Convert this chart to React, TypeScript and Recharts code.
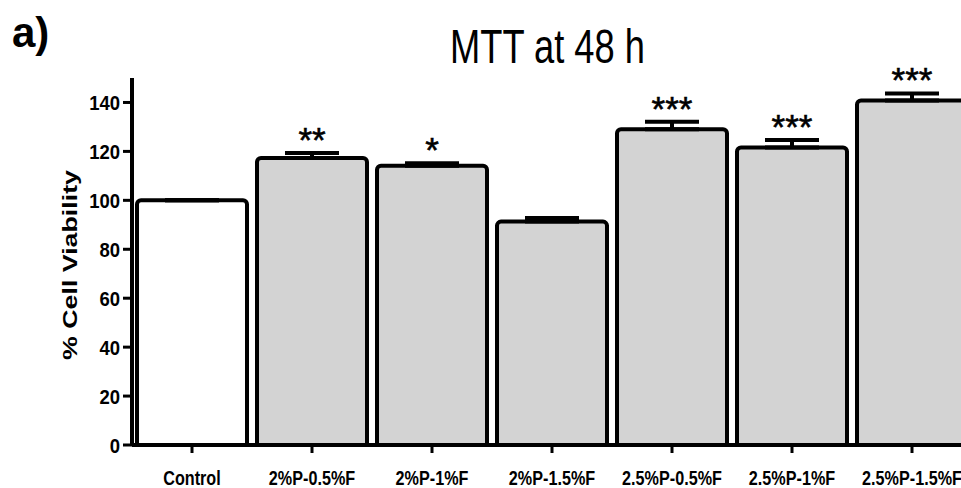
import { ComposedChart, Bar, Cell, ErrorBar, Line, LabelList, XAxis, YAxis } from 'recharts';

const categories = ['Control', '2%P-0.5%F', '2%P-1%F', '2%P-1.5%F', '2.5%P-0.5%F', '2.5%P-1%F', '2.5%P-1.5%F'];
const viability = [100, 117.3, 114.1, 91.3, 129.1, 121.6, 140.8];
const sem = [0, 2.0, 1.1, 1.5, 3.0, 3.1, 2.9];
const significance = ['', '**', '*', '', '***', '***', '***'];
const yTicks = [0, 20, 40, 60, 80, 100, 120, 140];

const data = categories.map((name, i) => ({
    name,
    value: viability[i],
    err: [0, sem[i]],
    top: viability[i] + sem[i],
    sig: significance[i],
}));

const SANS = "'Liberation Sans', Arial, sans-serif";

// no narrow font installed, so squeeze the regular one
const YTick = (props: any) => {
    const { x, y, payload } = props;
    return (
        <g transform={`translate(${x},${y}) scale(0.88,1)`}>
            <text x={0} y={0} dy={7.5} textAnchor="end" fontFamily={SANS} fontWeight="bold" fontSize={21} fill="#000">
                {payload.value}
            </text>
        </g>
    );
};

const XTick = (props: any) => {
    const { x, y, payload } = props;
    return (
        <g transform={`translate(${x},${y}) scale(0.83,1)`}>
            <text x={0} y={0} dy={30} textAnchor="middle" fontFamily={SANS} fontWeight="bold" fontSize={19.5} fill="#000">
                {payload.value}
            </text>
        </g>
    );
};

const StarLabel = (props: any) => {
    const { x, y, value } = props;
    if (!value) return null;
    return (
        <text x={x} y={y} dy={-1} textAnchor="middle" fontFamily={SANS} fontSize={35} fill="#000" stroke="#000" strokeWidth={0.6}>
            {value}
        </text>
    );
};

export default function App() {
    return (
        <div style={{ position: 'absolute', left: 0, top: 0, width: 961, height: 488, overflow: 'hidden', background: '#fff' }}>
            <ComposedChart
                width={980}
                height={488}
                data={data}
                margin={{ top: 78, right: 8, bottom: 0, left: 0 }}
                barCategoryGap={10}
            >
                <XAxis
                    dataKey="name"
                    height={43}
                    axisLine={{ stroke: '#000', strokeWidth: 4 }}
                    tickLine={{ stroke: '#000', strokeWidth: 3 }}
                    tickSize={8}
                    tick={<XTick />}
                    interval={0}
                />
                <YAxis
                    width={132}
                    domain={[0, 150]}
                    ticks={yTicks}
                    axisLine={{ stroke: '#000', strokeWidth: 4 }}
                    tickLine={{ stroke: '#000', strokeWidth: 3 }}
                    tickSize={9}
                    tickMargin={3}
                    tick={<YTick />}
                />
                <Bar dataKey="value" barSize={110} stroke="#000" strokeWidth={4} radius={[4, 4, 0, 0]} isAnimationActive={false}>
                    {data.map((d, i) => (
                        <Cell key={d.name} fill={i === 0 ? '#ffffff' : '#d3d3d3'} />
                    ))}
                    <ErrorBar dataKey="err" width={27} stroke="#000" strokeWidth={4} direction="y" />
                </Bar>
                <Line dataKey="top" stroke="none" dot={false} activeDot={false} isAnimationActive={false} legendType="none">
                    <LabelList dataKey="sig" content={<StarLabel />} />
                </Line>
            </ComposedChart>
            <svg width={961} height={488} style={{ position: 'absolute', left: 0, top: 0, pointerEvents: 'none' }}>
                <text x={12} y={47} fontFamily={SANS} fontWeight="bold" fontSize={42} fill="#000">
                    a)
                </text>
                <text x={450} y={63} textLength={195} lengthAdjust="spacingAndGlyphs" fontFamily={SANS} fontSize={48} fill="#000">
                    MTT at 48 h
                </text>
                <text
                    x={77}
                    y={265}
                    transform="rotate(-90 77 265)"
                    textAnchor="middle"
                    textLength={190}
                    lengthAdjust="spacingAndGlyphs"
                    fontFamily={SANS}
                    fontWeight="bold"
                    fontSize={21}
                    fill="#000"
                >
                    % Cell Viability
                </text>
            </svg>
        </div>
    );
}
